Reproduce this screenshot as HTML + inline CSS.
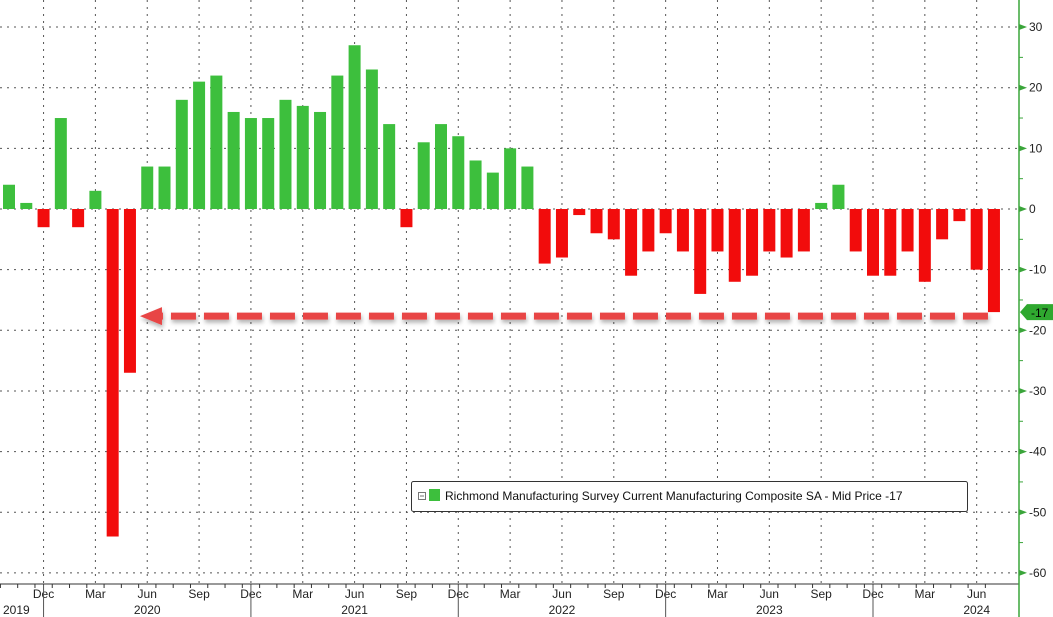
<!DOCTYPE html>
<html><head><meta charset="utf-8"><style>
html,body{margin:0;padding:0;background:#fff;}
svg{display:block;font-family:"Liberation Sans",sans-serif;}
</style></head><body>
<svg id="chart" width="1053" height="617">
<defs><filter id="sh" x="-5%" y="-50%" width="110%" height="250%"><feDropShadow dx="1" dy="3" stdDeviation="2" flood-color="#000" flood-opacity="0.3"/></filter></defs>
</svg>
<script>
const values=[4,1,-3,15,-3,3,-54,-27,7,7,18,21,22,16,15,15,18,17,16,22,27,23,14,-3,11,14,12,8,6,10,7,-9,-8,-1,-4,-5,-11,-7,-4,-7,-14,-7,-12,-11,-7,-8,-7,1,4,-7,-11,-11,-7,-12,-5,-2,-10,-17];
const monthLabels=["Dec","Mar","Jun","Sep"];
const yTicks=[30,20,10,0,-10,-20,-30,-40,-50,-60];
const years=["2019","2020","2021","2022","2023","2024"];
const lastValue=-17;
const startMonth=9; // Oct 2019 (0-based month)
const startYear=2019;

const NS="http://www.w3.org/2000/svg";
const svg=document.getElementById('chart');
function el(t,a,p){const e=document.createElementNS(NS,t);for(const k in a)e.setAttribute(k,a[k]);(p||svg).appendChild(e);return e;}
const x=i=>9+i*17.28;
const y=v=>209-v*6.065;
const axisX=1019, baseY=584;

yTicks.forEach(v=>{
 const g=el('line',{x1:0,x2:axisX,y1:y(v),y2:y(v),stroke:'#555','stroke-width':1,'stroke-dasharray':'2,5'});
 
 const tk=el('path',{d:`M${axisX},${y(v)-3} L${axisX+8},${y(v)} L${axisX},${y(v)+3}Z`,fill:'#3aa53a'});
 
 const t=el('text',{x:axisX+10,y:y(v)+4,'font-size':12,fill:'#222'});t.textContent=v;
 
});
for(let v=-55;v<=35;v+=10){const m=el('line',{x1:axisX,x2:axisX+4,y1:y(v),y2:y(v),stroke:'#3aa53a'});}

for(let i=0;i<values.length;i++){
 const m=(startMonth+i)%12, yr=startYear+Math.floor((startMonth+i)/12);
 const tk=el('line',{x1:x(i)-8.6,x2:x(i)-8.6,y1:baseY,y2:baseY+4,stroke:'#333'});
 
 if(m%3===2){
  const g=el('line',{x1:x(i),x2:x(i),y1:0,y2:baseY,stroke:'#555','stroke-dasharray':'2,5'});
  
  const t=el('text',{x:x(i),y:598,'font-size':12,fill:'#222','text-anchor':'middle'});
  t.textContent=monthLabels[((m+1)/3)%4];
  
 }
 if(m===5){const t=el('text',{x:x(i),y:614,'font-size':12,fill:'#222','text-anchor':'middle'});t.textContent=years[yr-startYear];
  }
 if(m===11){const s=el('line',{x1:x(i),x2:x(i),y1:baseY,y2:617,stroke:'#555'});}
}
const t19=el('text',{x:3,y:614,'font-size':12,fill:'#222'});t19.textContent=years[0];

const bl=el('line',{x1:0,x2:axisX,y1:baseY,y2:baseY,stroke:'#333'});
const al=el('line',{x1:axisX,x2:axisX,y1:0,y2:617,stroke:'#3aa53a','stroke-width':1.5});

values.forEach((v,i)=>{
 const r=el('rect',{x:x(i)-6,width:12,y:Math.min(y(v),y(0)),height:Math.abs(y(v)-y(0)),fill:v>=0?'#3dbf3d':'#f20c0c'});
 
});

const ay=y(lastValue)+4;
const ag=el('g',{filter:'url(#sh)'});
el('line',{x1:x(values.length-1)-6,x2:x(7)+32,y1:ay,y2:ay,stroke:'#e84545','stroke-width':7,'stroke-dasharray':'25,8'},ag);
el('path',{d:`M${x(7)+10},${ay} L${x(7)+32},${ay-9} L${x(7)+32},${ay+9}Z`,fill:'#e84545'},ag);

const by=y(lastValue);
const b=el('path',{d:`M${axisX+1},${by} L${axisX+8},${by-8} L1053,${by-8} L1053,${by+8} L${axisX+8},${by+8}Z`,fill:'#2fa82f'});

const bt=el('text',{x:axisX+12,y:by+5,'font-size':12,fill:'#000'});bt.textContent=lastValue;


const lg=el('g',{});
el('rect',{x:411.5,y:481.5,width:556,height:30,fill:'#fff',stroke:'#333',rx:2},lg);
el('rect',{x:418.5,y:492.5,width:7,height:7,fill:'#fff',stroke:'#777'},lg);
el('line',{x1:420,x2:424,y1:496,y2:496,stroke:'#777'},lg);
el('rect',{x:429,y:489,width:11,height:12,fill:'#3dbf3d'},lg);
const lt=el('text',{x:445,y:500,'font-size':12,fill:'#111'},lg);
lt.textContent="Richmond Manufacturing Survey Current Manufacturing Composite SA - Mid Price "+lastValue;

</script>
</body></html>
